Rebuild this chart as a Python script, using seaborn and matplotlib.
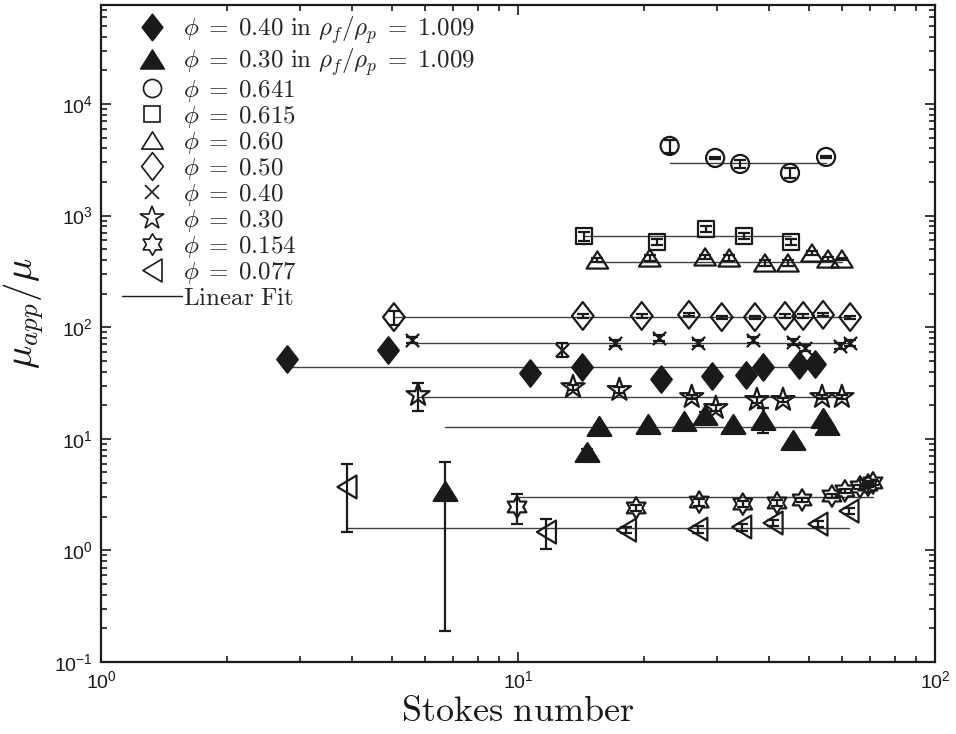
import numpy as np
import pandas as pd
import matplotlib
matplotlib.use("Agg")
import matplotlib.pyplot as plt
import seaborn as sns
from matplotlib.path import Path
from matplotlib.lines import Line2D

# ---------------- data ----------------
# phi = 0.40 in rho_f/rho_p = 1.009 (filled diamonds)
st_d40b = [2.79, 4.88, 10.7, 14.2, 22.0, 29.2, 35.2, 38.7, 47.2, 51.5]
mu_d40b = [51.9, 62.5, 38.9, 44.0, 34.4, 36.6, 37.3, 44.0, 45.8, 46.8]
fit_d40b = 44.0

# phi = 0.30 in rho_f/rho_p = 1.009 (filled triangles)
st_t30b = [6.68, 14.6, 15.6, 20.5, 25.0, 28.1, 32.8, 38.7, 45.6, 54.0, 55.0]
mu_t30b = [3.41, 7.61, 13.0, 13.6, 14.4, 16.3, 13.6, 14.7, 9.75, 15.3, 13.3]
elo_t30b = [3.22, 0.5, 0.0, 0.0, 0.0, 1.0, 0.0, 3.4, 0.0, 0.0, 0.0]
ehi_t30b = [2.79, 0.5, 0.0, 0.0, 0.0, 1.0, 0.0, 4.2, 0.0, 0.0, 0.0]
fit_t30b = 12.8

# phi = 0.641 (circles)
st_641 = [23.1, 29.7, 34.1, 44.9, 54.8]
mu_641 = [4205, 3281, 2900, 2408, 3350]
err_641 = [550, 60, 260, 260, 60]
fit_641 = 2960

# phi = 0.615 (squares)
st_615 = [14.4, 21.5, 28.2, 34.8, 45.2]
mu_615 = [656, 580, 759, 656, 580]
err_615 = [60, 35, 45, 40, 35]
fit_615 = 656

# phi = 0.60 (open triangles)
st_60 = [15.5, 20.7, 28.1, 32.1, 39.1, 44.4, 50.7, 55.4, 59.8]
mu_60 = [400, 417, 426, 417, 376, 376, 462, 408, 408]
err_60 = [20, 25, 20, 25, 20, 25, 20, 15, 10]
fit_60 = 384

# phi = 0.50 (open diamonds)
st_50 = [5.04, 14.3, 19.8, 25.7, 30.8, 37.0, 43.7, 48.3, 53.9, 62.6]
mu_50 = [123, 126, 126, 129, 123, 123, 126, 126, 129, 123]
err_50 = [18, 4, 4, 4, 4, 4, 4, 4, 4, 4]
fit_50 = 123

# phi = 0.40 (crosses)
st_40 = [5.57, 12.75, 17.1, 21.8, 27.0, 36.6, 45.6, 48.8, 59.2, 62.6]
mu_40 = [76.8, 62.5, 72.2, 80.0, 72.2, 76.8, 73.7, 65.1, 67.8, 72.2]
err_40 = [4, 9, 4, 5, 4, 4, 4, 4, 4, 4]
fit_40 = 72.2

# phi = 0.30 (pentagrams)
st_30 = [5.76, 13.55, 17.5, 26.1, 29.8, 37.4, 43.2, 53.6, 59.8]
mu_30 = [24.7, 29.1, 27.4, 23.7, 18.9, 22.3, 22.3, 23.7, 23.7]
err_30 = [7.0, 1.5, 1.5, 1.0, 1.2, 1.5, 1.0, 1.2, 1.2]
fit_30 = 23.7

# phi = 0.154 (hexagrams)
st_154 = [9.95, 19.2, 27.2, 34.6, 41.8, 48.0, 56.6, 60.8, 66.1, 69.1, 71.0]
mu_154 = [2.45, 2.40, 2.71, 2.60, 2.66, 2.83, 3.07, 3.41, 3.70, 3.85, 4.02]
err_154 = [0.73, 0.15, 0.2, 0.15, 0.15, 0.12, 0.15, 0.15, 0.15, 0.15, 0.15]
fit_154 = 3.01

# phi = 0.077 (left triangles)
st_077 = [3.89, 11.7, 18.2, 27.0, 34.4, 40.9, 52.4, 62.2]
mu_077 = [3.70, 1.46, 1.52, 1.55, 1.62, 1.76, 1.72, 2.25]
err_077 = [2.25, 0.44, 0.1, 0.12, 0.12, 0.12, 0.1, 0.15]
fit_077 = 1.59

labels = [
    r"$\phi\;=\;0.40\ \mathrm{in}\ \rho_f/\rho_p\;=\;1.009$",
    r"$\phi\;=\;0.30\ \mathrm{in}\ \rho_f/\rho_p\;=\;1.009$",
    r"$\phi\;=\;0.641$",
    r"$\phi\;=\;0.615$",
    r"$\phi\;=\;0.60$",
    r"$\phi\;=\;0.50$",
    r"$\phi\;=\;0.40$",
    r"$\phi\;=\;0.30$",
    r"$\phi\;=\;0.154$",
    r"$\phi\;=\;0.077$",
]
fit_label = r"$\mathrm{Linear\ Fit}$"
xlabel = r"$\mathrm{Stokes\ number}$"
ylabel = r"$\mu_{app}/\mu$"

# ---------------- marker shapes ----------------
diamond = Path([(0, 1), (0.78, 0), (0, -1), (-0.78, 0), (0, 1)],
               [Path.MOVETO, Path.LINETO, Path.LINETO, Path.LINETO, Path.CLOSEPOLY])
tri_up = Path([(0, 0.8), (1, -0.8), (-1, -0.8), (0, 0.8)],
              [Path.MOVETO, Path.LINETO, Path.LINETO, Path.CLOSEPOLY])
tri_left = Path([(-0.83, 0), (0.83, 1), (0.83, -1), (-0.83, 0)],
                [Path.MOVETO, Path.LINETO, Path.LINETO, Path.CLOSEPOLY])
hexagram = Path.unit_regular_star(6, 0.577)

# ---------------- style ----------------
sns.set_theme(style="ticks")
plt.rcParams["font.family"] = ["Liberation Sans", "DejaVu Sans"]
plt.rcParams["mathtext.fontset"] = "cm"
plt.rcParams["axes.linewidth"] = 1.6

fig = plt.figure(figsize=(9.56, 7.34), dpi=100)
ax = fig.add_axes([101 / 956, 72 / 734, 834 / 956, 657 / 734])
ax.set_xscale("log")
ax.set_yscale("log")

series = [
    # x, y, err, fit, marker, size, filled
    (st_d40b, mu_d40b, None, fit_d40b, diamond, 19, True),
    (st_t30b, mu_t30b, (elo_t30b, ehi_t30b), fit_t30b, tri_up, 17, True),
    (st_641, mu_641, err_641, fit_641, "o", 13, False),
    (st_615, mu_615, err_615, fit_615, "s", 11.5, False),
    (st_60, mu_60, err_60, fit_60, tri_up, 15.5, False),
    (st_50, mu_50, err_50, fit_50, diamond, 20, False),
    (st_40, mu_40, err_40, fit_40, "x", 9.5, None),
    (st_30, mu_30, err_30, fit_30, "*", 17.5, False),
    (st_154, mu_154, err_154, fit_154, hexagram, 15.5, False),
    (st_077, mu_077, err_077, fit_077, tri_left, 16.5, False),
]

lw = 1.6
# linear fits
for x, y, err, fit, m, ms, filled in series:
    fdf = pd.DataFrame({"x": [min(x), max(x)], "y": [fit, fit]})
    sns.lineplot(data=fdf, x="x", y="y", ax=ax, color="0.25", lw=1.0,
                 legend=False, zorder=2)

# error bars
for x, y, err, fit, m, ms, filled in series:
    if err is None:
        continue
    ax.errorbar(x, y, yerr=err, fmt="none", ecolor="k", elinewidth=lw,
                capsize=4.5, capthick=lw, zorder=3)

# markers
for x, y, err, fit, m, ms, filled in series:
    df = pd.DataFrame({"x": x, "y": y})
    if filled is None:
        sns.scatterplot(data=df, x="x", y="y", marker=m, s=ms ** 2, color="k",
                        linewidth=lw, ax=ax, legend=False, zorder=4)
    elif filled:
        sns.scatterplot(data=df, x="x", y="y", marker=m, s=ms ** 2,
                        facecolor="k", edgecolor="k", linewidth=lw, ax=ax,
                        legend=False, zorder=4)
    else:
        sns.scatterplot(data=df, x="x", y="y", marker=m, s=ms ** 2,
                        facecolor="none", edgecolor="k", linewidth=lw, ax=ax,
                        legend=False, zorder=4)

ax.set_xlim(1, 100)
ax.set_ylim(0.1, 7.7e4)
ax.set_yticks([1e-1, 1e0, 1e1, 1e2, 1e3, 1e4])
ax.set_xticks([1, 10, 100])
ax.tick_params(which="both", direction="in", top=True, right=True,
               labelsize=14, width=1.2, color="k", labelcolor="k")
ax.tick_params(which="major", length=7, pad=6)
ax.tick_params(which="minor", length=4)
for sp in ax.spines.values():
    sp.set_color("k")
    sp.set_visible(True)

ax.set_xlabel(xlabel, fontsize=26, labelpad=1, color="k")
ax.set_ylabel(ylabel, fontsize=28, color="k")
ax.yaxis.set_label_coords(-0.066, 0.53)

# legend
handles = []
for x, y, err, fit, m, ms, filled in series:
    if filled is None:
        h = Line2D([], [], ls="none", marker=m, ms=ms, color="k", mew=1.2)
    elif filled:
        h = Line2D([], [], ls="none", marker=m, ms=ms, mfc="k", mec="k", mew=1.2)
    else:
        h = Line2D([], [], ls="none", marker=m, ms=ms, mfc="none", mec="k", mew=1.2)
    handles.append(h)
handles.append(Line2D([], [], color="k", lw=1.0))
leg = ax.legend(handles, labels + [fit_label], loc="upper left",
                bbox_to_anchor=(0.025, 0.986), borderaxespad=0, borderpad=0,
                frameon=False, fontsize=18, handlelength=2.4,
                handletextpad=0.05, labelspacing=0.0, markerscale=1.0)

fig.savefig("out.png", dpi=100)
